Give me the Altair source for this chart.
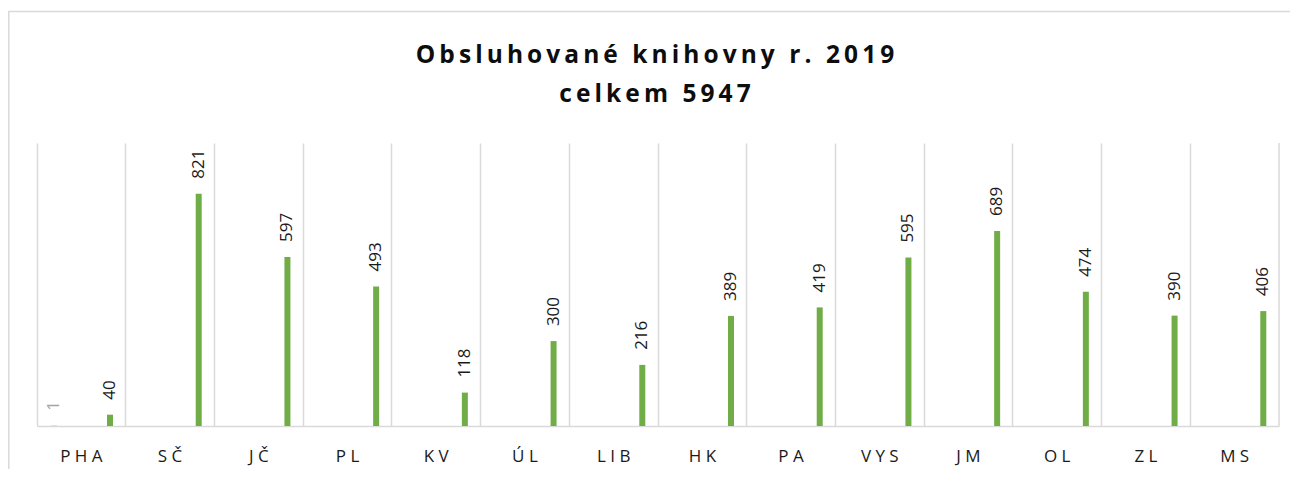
import altair as alt
import pandas as pd

categories = ["PHA", "SČ", "JČ", "PL", "KV", "ÚL", "LIB", "HK", "PA", "VYS", "JM", "OL", "ZL", "MS"]
series_gray = [1, None, None, None, None, None, None, None, None, None, None, None, None, None]
series_green = [40, 821, 597, 493, 118, 300, 216, 389, 419, 595, 689, 474, 390, 406]
title_lines = ["Obsluhované knihovny r. 2019", "celkem 5947"]

rows = []
for c, g, v in zip(categories, series_gray, series_green):
    if g is not None:
        rows.append({"kraj": c, "serie": "s1", "hodnota": g})
    if v is not None:
        rows.append({"kraj": c, "serie": "s2", "hodnota": v})
df = pd.DataFrame(rows)

W, H = 1242, 283
FONT = "Open Sans"
GRID = "#d9d9d9"

def spaced(s):
    return "\u2009".join(list(s))

x_enc = alt.X(
    "kraj:N",
    sort=categories,
    scale=alt.Scale(paddingInner=0, paddingOuter=0),
    axis=alt.Axis(
        title=None,
        labelAngle=0,
        grid=True,
        bandPosition=0,
        gridColor=GRID,
        gridWidth=1.5,
        domainColor=GRID,
        domainWidth=1.5,
        ticks=False,
        tickSize=0,
        labelPadding=22,
        labelFont=FONT,
        labelFontSize=17,
        labelColor="#1a1a1a",
        labelExpr="join(split(datum.label, ''), ' ')",
    ),
)
xoff = alt.XOffset(
    "serie:N",
    scale=alt.Scale(domain=["s1", "s2"], range=[14, 76], paddingInner=0.893, paddingOuter=0),
)
y_enc = alt.Y("hodnota:Q", scale=alt.Scale(domain=[0, 1000]), axis=None)

base = alt.Chart(df)

bars = base.mark_bar().encode(
    x=x_enc,
    xOffset=xoff,
    y=y_enc,
    color=alt.Color("serie:N", scale=alt.Scale(domain=["s1", "s2"], range=["#a5a5a5", "#70ad47"]), legend=None),
)

labels_green = base.transform_filter(alt.datum.serie == "s2").mark_text(
    angle=270, align="left", baseline="middle", dx=15, font=FONT, fontSize=17, color="#1a1a1a"
).encode(x=x_enc, xOffset=xoff, y=y_enc, text="hodnota:Q")

labels_gray = base.transform_filter(alt.datum.serie == "s1").mark_text(
    angle=270, align="left", baseline="middle", dx=15, font=FONT, fontSize=17, color="#a5a5a5"
).encode(x=x_enc, xOffset=xoff, y=y_enc, text="hodnota:Q")

one = pd.DataFrame({"a": [0]})

right_rule = alt.Chart(one).mark_rule(color=GRID, strokeWidth=1.5).encode(
    x=alt.value(W), y=alt.value(0), y2=alt.value(H)
)

border = alt.Chart(one).mark_rect(
    fill="transparent", stroke=GRID, strokeWidth=1.5
).encode(
    x=alt.value(-28.2), x2=alt.value(W + 60), y=alt.value(-131.5), y2=alt.value(H + 100)
)

title1 = alt.Chart(one).mark_text(
    text=spaced(title_lines[0]), font=FONT, fontSize=24.5, fontWeight="bold",
    color="#0d0d0d", align="center", baseline="alphabetic"
).encode(x=alt.value(618), y=alt.value(-80))

title2 = alt.Chart(one).mark_text(
    text=spaced(title_lines[1]), font=FONT, fontSize=24.5, fontWeight="bold",
    color="#0d0d0d", align="center", baseline="alphabetic"
).encode(x=alt.value(618), y=alt.value(-41))

chart = alt.layer(border, right_rule, bars, labels_gray, labels_green, title1, title2).properties(
    width=W,
    height=H,
    autosize=alt.AutoSizeParams(type="none"),
    padding={"left": 29, "top": 135, "right": 11, "bottom": 43},
).configure_view(stroke=None)

chart.save("out.html", embed_options={"renderer": "svg", "actions": False})
